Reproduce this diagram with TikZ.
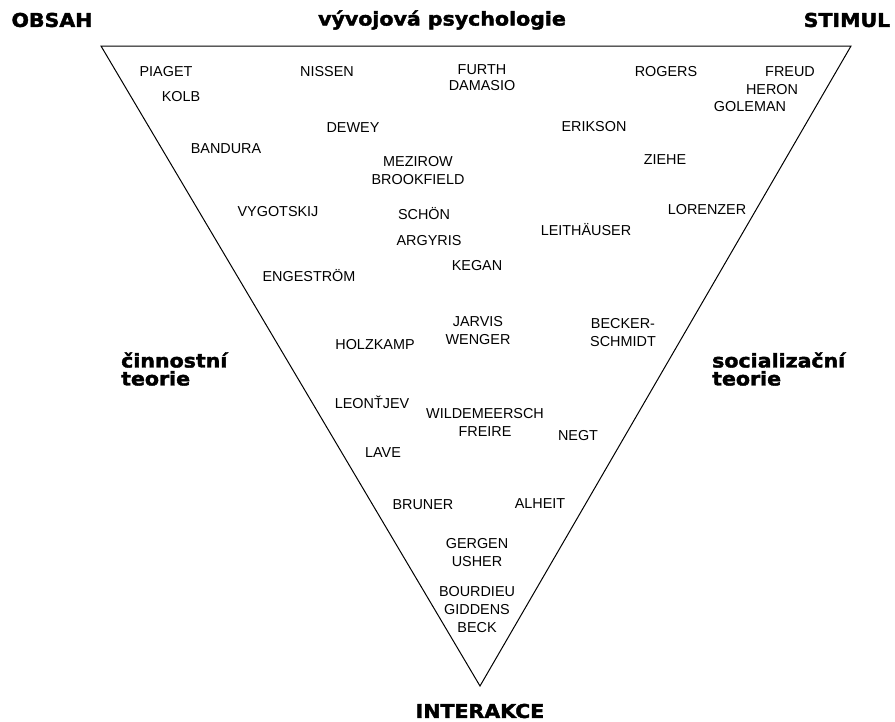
\documentclass[tikz,border=0pt]{standalone}
\usepackage{fontspec}
\setmainfont{Liberation Sans}
\newfontfamily\headfont{DejaVu Sans Bold}[FakeStretch=1.08, FakeBold=2]
\usetikzlibrary{positioning}

\tikzset{
  author/.style={font=\fontsize{14.4}{18}\selectfont, align=center, inner sep=0pt},
  corner/.style={font=\headfont\fontsize{19}{20}\selectfont, inner sep=0pt},
  theory/.style={corner, anchor=west, align=left}
}

\begin{document}
\begin{tikzpicture}[x=1pt,y=-1pt]
 \useasboundingbox (0,0) rectangle (895,721);

 % the triangle
 \coordinate (tl) at (101,46);
 \coordinate (tr) at (851,46);
 \coordinate (bt) at (480,686);
 \draw[line width=1pt] (tl) -- (tr) -- (bt) -- cycle;

 % corners and sides
 \node[corner] (obsah) at (52,20) {OBSAH};
 \node[corner] (vyvoj) at (442,20) {vývojová psychologie};
 \node[corner] (stimul) at (847,20) {STIMUL};
 \node[corner] (interakce) at (480,711) {INTERAKCE};
 \node[theory] (cinnost) at (121,369) {činnostní\\[-2pt]teorie};
 \node[theory] (social) at (712,369) {socializační\\[-2pt]teorie};

 % names
 \node[author] (piaget) at (166,72) {PIAGET};
 \node[author] (kolb) at (181,97) {KOLB};
 \node[author] (nissen) at (327,72) {NISSEN};
 \node[author] (furth) at (482,78) {FURTH\\[-2pt]DAMASIO};
 \node[author] (rogers) at (666,72) {ROGERS};
 \node[author] (freud) at (790,72) {FREUD};
 \node[author] (heron) at (772,90) {HERON};
 \node[author] (goleman) at (750,107) {GOLEMAN};
 \node[author] (dewey) at (353,128) {DEWEY};
 \node[author] (erikson) at (594,127) {ERIKSON};
 \node[author] (bandura) at (226,149) {BANDURA};
 \node[author] (mezirow) at (418,171) {MEZIROW\\BROOKFIELD};
 \node[author] (ziehe) at (665,160) {ZIEHE};
 \node[author] (lorenzer) at (707,210) {LORENZER};
 \node[author] (vygotskij) at (278,212) {VYGOTSKIJ};
 \node[author] (schon) at (424,214) {SCHÖN};
 \node[author] (leithauser) at (586,230) {LEITHÄUSER};
 \node[author] (argyris) at (429,241) {ARGYRIS};
 \node[author] (kegan) at (477,266) {KEGAN};
 \node[author] (engestrom) at (309,276) {ENGESTRÖM};
 \node[author] (jarvis) at (478,331) {JARVIS\\WENGER};
 \node[author] (holzkamp) at (375,345) {HOLZKAMP};
 \node[author] (becker) at (623,333) {BECKER-\\SCHMIDT};
 \node[author] (leontjev) at (372,402) {LEONŤJEV};
 \node[author] (wildemeersch) at (485,422) {WILDEMEERSCH\\FREIRE};
 \node[author] (negt) at (578,436) {NEGT};
 \node[author] (lave) at (383,453) {LAVE};
 \node[author] (bruner) at (423,505) {BRUNER};
 \node[author] (alheit) at (540,504) {ALHEIT};
 \node[author] (gergen) at (477,553) {GERGEN\\USHER};
 \node[author] (bourdieu) at (477,610) {BOURDIEU\\GIDDENS\\BECK};
\end{tikzpicture}
\end{document}
